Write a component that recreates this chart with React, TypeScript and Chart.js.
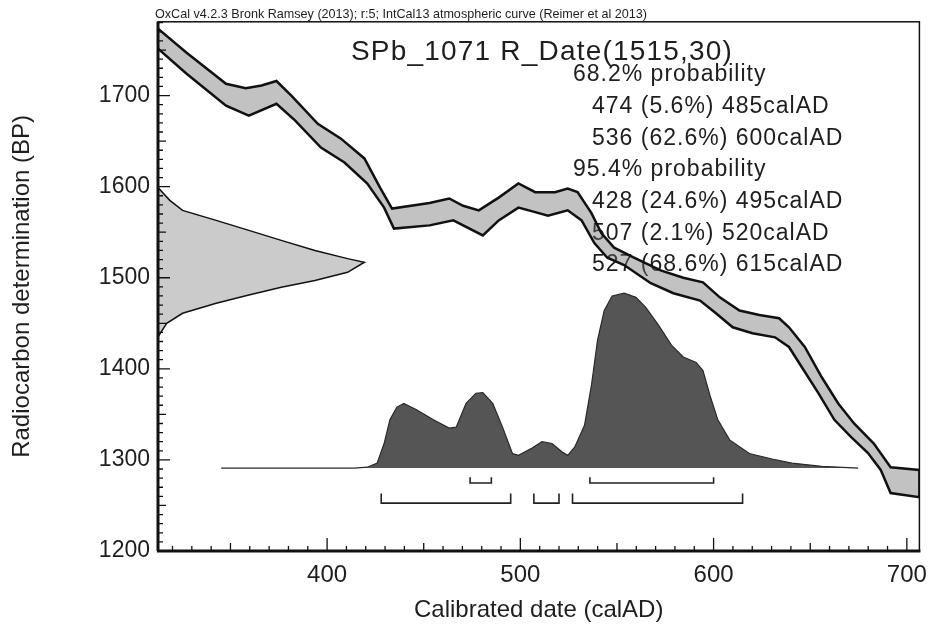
import React, { useEffect, useRef } from "react";
import { Chart, registerables } from "chart.js";
Chart.register(...registerables);

// ---------- data ----------
const X_MIN = 312.5;
const X_MAX = 706.5;
const Y_MIN = 1200;
const Y_MAX = 1781;

const xTickLabels = [400, 500, 600, 700];
const yTickLabels = [1200, 1300, 1400, 1500, 1600, 1700];

// IntCal13 curve band, upper edge
const curveUpperYear = [312.5, 327.3, 347.7, 357.9, 366.1, 373.8, 381.5, 395.2, 407, 419.3, 427.4, 433.6, 453, 463.2, 470.4, 478.5, 488.8, 499, 507.7, 517.9, 524.5, 529.6, 536.8, 541.9, 548.5, 558.8, 572.6, 584.3, 594.5, 603.2, 613.4, 623.7, 633.9, 639, 647.2, 655.9, 664.5, 672.7, 682.9, 691.6, 706.5];
const curveUpperBP = [1773.5, 1747, 1713, 1708, 1711, 1716, 1700, 1669, 1653, 1631, 1599, 1576, 1582, 1587, 1579, 1574, 1588, 1603.5, 1594, 1594, 1598, 1594, 1571, 1549, 1533, 1522, 1508, 1500, 1495, 1478.5, 1464, 1459, 1455.5, 1445.6, 1424, 1391, 1362, 1340, 1318, 1292, 1289];
// IntCal13 curve band, lower edge
const curveLowerYear = [312.5, 327.3, 347.7, 359.5, 373.8, 383.5, 396.8, 409, 420.8, 429.5, 434.6, 453, 465.3, 480.6, 488.8, 499, 507.7, 514.3, 524.5, 531.7, 538.3, 545, 553.7, 567.5, 579.2, 593, 601.2, 609.9, 620.1, 631.8, 639, 645.6, 654.3, 662.5, 671.2, 679.9, 686.5, 691.6, 706.5];
const curveLowerBP = [1751.5, 1724, 1689, 1678, 1691, 1672.6, 1643, 1626.5, 1603.5, 1577, 1554, 1557.5, 1563, 1546.5, 1563, 1577, 1572, 1568, 1574, 1563, 1538, 1522, 1514, 1494, 1483, 1475, 1461, 1445.6, 1439, 1434.6, 1424, 1402, 1373, 1344, 1325, 1307.5, 1289, 1263.6, 1259];

// Radiocarbon date distribution on the y axis (BP, horizontal extent in years)
const dateBP = [1603, 1599, 1585, 1574, 1563, 1552, 1541, 1530, 1521, 1517, 1506, 1497, 1489.5, 1481, 1472, 1461, 1450, 1435, 1426];
const dateExtentYear = [312.5, 312.5, 318.6, 325.2, 342.6, 359.5, 376.3, 393.7, 410.6, 419.3, 410.6, 393.7, 376.3, 359.5, 342.6, 325.2, 317, 312.5, 312.5];

// Calibrated (posterior) distribution
const posteriorBaseBP = 1291;
const posteriorYear = [345.2, 414.2, 420.8, 425.9, 429.5, 432.5, 436.1, 439.7, 446.3, 455, 463.2, 466.8, 471.9, 477, 480.6, 485.7, 490.8, 495.9, 499, 506.1, 511.2, 516.4, 521.5, 524.5, 528.1, 533.2, 536.8, 539.9, 543.4, 547.5, 553.7, 559.8, 564.9, 571.5, 578.2, 584.3, 591, 594.5, 598.1, 602.2, 608.3, 618.5, 630.3, 640.5, 655.9, 674.8];
const posteriorBP = [1291, 1291, 1292, 1296.5, 1318, 1344, 1358, 1362, 1355, 1344, 1335, 1336, 1362, 1373, 1374, 1362, 1336, 1307, 1305, 1313, 1320, 1318, 1309, 1305, 1314, 1338, 1382, 1431, 1464, 1480, 1483, 1478.5, 1467.5, 1448, 1426, 1413, 1407, 1398, 1371, 1344, 1322, 1307, 1301, 1296.5, 1293, 1291];

// Probability ranges
const range68 = [[474, 485], [536, 600]];
const range95 = [[428, 495], [507, 520], [527, 615]];
const bracket68BP = [1274.6, 1281];
const bracket95BP = [1252.6, 1263];

const headerText = "OxCal v4.2.3 Bronk Ramsey (2013); r:5; IntCal13 atmospheric curve (Reimer et al 2013)";
const titleText = "SPb_1071 R_Date(1515,30)";
const probLines = [
  { text: "68.2% probability", indent: 0 },
  { text: "474 (5.6%) 485calAD", indent: 1 },
  { text: "536 (62.6%) 600calAD", indent: 1 },
  { text: "95.4% probability", indent: 0 },
  { text: "428 (24.6%) 495calAD", indent: 1 },
  { text: "507 (2.1%) 520calAD", indent: 1 },
  { text: "527 (68.6%) 615calAD", indent: 1 },
];

// ---------- helpers ----------
const pts = (xs: number[], ys: number[]) => xs.map((x, i) => ({ x, y: ys[i] }));

const bracketPoints = (ranges: number[][], lvl: number[]) =>
  ranges.flatMap(([a, b]) => [
    { x: a, y: lvl[1] },
    { x: a, y: lvl[0] },
    { x: b, y: lvl[0] },
    { x: b, y: lvl[1] },
    { x: b, y: null as any },
  ]);

const FONT = "'Liberation Sans', Arial, sans-serif";

const textPlugin = {
  id: "oxcalText",
  beforeDraw(chart: any) {
    const { ctx } = chart;
    ctx.save();
    ctx.fillStyle = "#ffffff";
    ctx.fillRect(0, 0, chart.width, chart.height);
    ctx.restore();
  },
  beforeDatasetsDraw(chart: any) {
    const { ctx, chartArea: a } = chart;
    ctx.save();
    ctx.fillStyle = "#1e1e1e";
    // header
    ctx.font = `12.6px ${FONT}`;
    ctx.textAlign = "left";
    ctx.textBaseline = "alphabetic";
    ctx.fillText(headerText, a.left - 3, a.top - 4);
    // title
    ctx.font = `28px ${FONT}`;
    (ctx as any).letterSpacing = "1.2px";
    ctx.textAlign = "center";
    ctx.textBaseline = "middle";
    ctx.fillText(titleText, 542, a.top + 30);
    // probability lines
    ctx.font = `23px ${FONT}`;
    (ctx as any).letterSpacing = "1px";
    ctx.textAlign = "left";
    probLines.forEach((l, i) => {
      ctx.fillText(l.text, l.indent ? 592 : 573, a.top + 53 + i * 31.7);
    });
    ctx.restore();
  },
  afterDatasetsDraw(chart: any) {
    const { ctx, chartArea: a, scales } = chart;
    const x = scales.x;
    const y = scales.y;
    ctx.save();
    ctx.strokeStyle = "#111";
    ctx.lineWidth = 1.3;
    ctx.beginPath();
    for (let v = Y_MIN + 10; v < Y_MAX; v += 10) {
      const py = y.getPixelForValue(v);
      const len = v % 100 === 0 ? 12 : v % 50 === 0 ? 8 : 5;
      ctx.moveTo(a.left, py);
      ctx.lineTo(a.left + len, py);
    }
    for (let v = 320; v < X_MAX; v += 10) {
      const px = x.getPixelForValue(v);
      const len = v % 100 === 0 ? 13 : v % 50 === 0 ? 8 : 5;
      ctx.moveTo(px, a.bottom);
      ctx.lineTo(px, a.bottom - len);
    }
    ctx.stroke();
    // frame
    ctx.lineWidth = 1.5;
    ctx.strokeRect(a.left, a.top, a.right - a.left, a.bottom - a.top);
    ctx.lineWidth = 3;
    ctx.beginPath();
    ctx.moveTo(a.left - 1, a.bottom);
    ctx.lineTo(a.right + 1, a.bottom);
    ctx.moveTo(a.left, a.top);
    ctx.lineTo(a.left, a.bottom);
    ctx.stroke();
    ctx.restore();
  },
};

export default function App() {
  const ref = useRef<HTMLCanvasElement | null>(null);
  useEffect(() => {
    document.body.style.margin = "0";
    const canvas = ref.current!;
    const bandPoints = [
      ...pts(curveUpperYear, curveUpperBP),
      ...pts(curveLowerYear, curveLowerBP).reverse(),
    ];
    const chart = new Chart(canvas, {
      type: "line",
      data: {
        datasets: [
          {
            label: "curve",
            data: bandPoints,
            borderColor: "#111",
            borderWidth: 2.5,
            backgroundColor: "rgba(110,110,110,0.42)",
            fill: "shape",
            pointRadius: 0,
            tension: 0,
          },
          {
            label: "date",
            data: pts(dateExtentYear, dateBP),
            borderColor: "#111",
            borderWidth: 1.5,
            backgroundColor: "rgba(130,130,130,0.42)",
            fill: "shape",
            pointRadius: 0,
            tension: 0,
          },
          {
            label: "posterior",
            data: pts(posteriorYear, posteriorBP),
            borderColor: "#2a2a2a",
            borderWidth: 1.2,
            backgroundColor: "#555555",
            fill: { value: posteriorBaseBP },
            pointRadius: 0,
            tension: 0,
          },
          {
            label: "68",
            data: bracketPoints(range68, bracket68BP),
            borderColor: "#222",
            borderWidth: 1.6,
            fill: false,
            pointRadius: 0,
            spanGaps: false,
          },
          {
            label: "95",
            data: bracketPoints(range95, bracket95BP),
            borderColor: "#222",
            borderWidth: 1.6,
            fill: false,
            pointRadius: 0,
            spanGaps: false,
          },
        ] as any,
      },
      options: {
        responsive: false,
        animation: false,
        devicePixelRatio: 1,
        layout: { padding: { top: 21, right: 8, left: 0, bottom: 0 } },
        plugins: { legend: { display: false }, tooltip: { enabled: false } },
        scales: {
          x: {
            type: "linear",
            min: X_MIN,
            max: X_MAX,
            grid: { display: false, drawTicks: false },
            border: { display: false },
            afterBuildTicks: (s: any) => {
              s.ticks = xTickLabels.map((v) => ({ value: v }));
            },
            afterFit: (s: any) => {
              s.height = 82;
            },
            ticks: {
              padding: 10,
              color: "#1e1e1e",
              font: { family: FONT, size: 24 },
              maxRotation: 0,
              callback: (v: any) => String(v),
            },
            title: {
              display: true,
              text: "Calibrated date (calAD)",
              color: "#1e1e1e",
              font: { family: FONT, size: 24 },
              padding: { top: 0, bottom: 8 },
            },
          },
          y: {
            type: "linear",
            min: Y_MIN,
            max: Y_MAX,
            grid: { display: false, drawTicks: false },
            border: { display: false },
            afterBuildTicks: (s: any) => {
              s.ticks = yTickLabels.map((v) => ({ value: v }));
            },
            afterFit: (s: any) => {
              s.width = 158;
            },
            ticks: {
              padding: 8,
              color: "#1e1e1e",
              font: { family: FONT, size: 23 },
              callback: (v: any) => String(v),
            },
            title: {
              display: true,
              text: "Radiocarbon determination (BP)",
              color: "#1e1e1e",
              font: { family: FONT, size: 24 },
              padding: { top: 8, bottom: 0 },
            },
          },
        },
      } as any,
      plugins: [textPlugin],
    });
    return () => chart.destroy();
  }, []);
  return (
    <div style={{ width: 937, height: 633 }}>
      <canvas ref={ref} width={937} height={633} style={{ display: "block" }} />
    </div>
  );
}
